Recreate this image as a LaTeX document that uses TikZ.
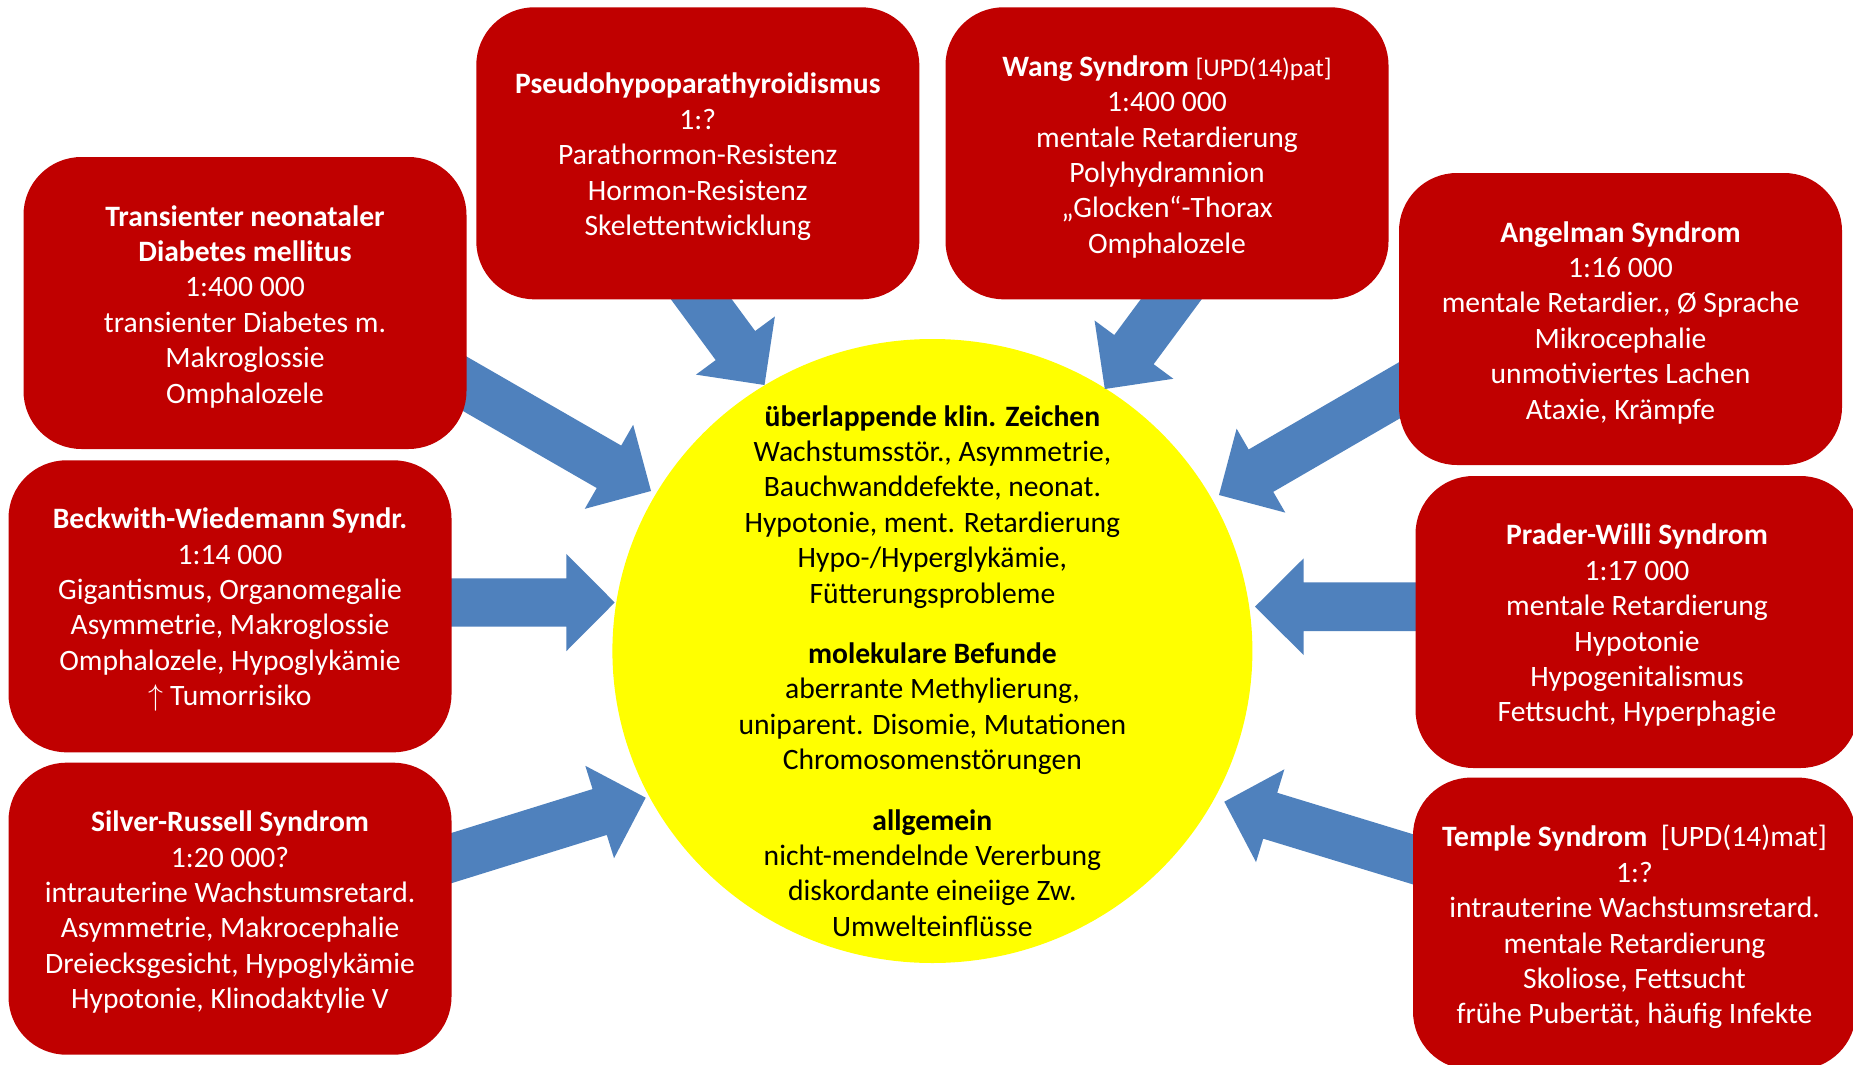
\documentclass[tikz,border=0pt]{standalone}
\usepackage{fontspec}
\setmainfont{Carlito}
\usetikzlibrary{calc,shapes.geometric}
\definecolor{boxred}{RGB}{192,0,0}
\definecolor{arrowblue}{RGB}{79,129,189}
\definecolor{circyellow}{RGB}{255,255,0}
% #1 start, #2 tip, #3 half shaft width, #4 half head width, #5 head length
\newcommand\blockarrow[5]{%
  \coordinate (bab) at ($(#2)!#5pt!(#1)$);
  \fill[arrowfill]
    ($(#1)!#3pt!90:(#2)$) -- ($(bab)!#3pt!90:(#2)$) -- ($(bab)!#4pt!90:(#2)$)
    -- (#2)
    -- ($(bab)!#4pt!-90:(#2)$) -- ($(bab)!#3pt!-90:(#2)$) -- ($(#1)!#3pt!-90:(#2)$) -- cycle;
}
% #1 name, #2 position, #3 text
\newcommand\synbox[3]{%
  \node[sbox] (#1) at (#2) {};
  \node[stext] (#1-t) at ([yshift=-3.5pt]#1.center) {#3};
}
\begin{document}
\begin{tikzpicture}[x=1pt,y=-1pt,
  sbox/.style={fill=boxred, rounded corners=58pt, minimum width=443pt, minimum height=292pt,
    inner sep=0pt},
  stext/.style={align=center, text=white, inner sep=0pt, font=\fontsize{29.6}{35.4}\selectfont},
  arrowfill/.style={fill=arrowblue},
  ctext/.style={align=center, text=black, inner sep=0pt, font=\fontsize{29.6}{35.4}\selectfont}]
\useasboundingbox (0,0) rectangle (1853,1065);
\fill[white] (0,0) rectangle (1853,1065);
\clip (0,0) rectangle (1853,1065);

% central circle
\node[ellipse, fill=circyellow, minimum width=640pt, minimum height=624pt, inner sep=0pt] (circ) at (932.4,651) {};
\node[ctext] (circtext) at (932.4,671) {\textbf{überlappende klin. Zeichen}\\
Wachstumsstör., Asymmetrie,\\
Bauchwanddefekte, neonat.\\
Hypotonie, ment. Retardierung\\
Hypo-/Hyperglykämie,\\
Fütterungsprobleme\\[25pt]
\textbf{molekulare Befunde}\\
aberrante Methylierung,\\
uniparent. Disomie, Mutationen\\
Chromosomenstörungen\\[25pt]
\textbf{allgemein}\\
nicht-mendelnde Vererbung\\
diskordante eineiige Zw.\\
Umwelteinflüsse};

% arrow end points
\coordinate (a1s) at (440,369.5);    \coordinate (a1e) at (651,491);
\coordinate (a2s) at (683.7,275.4);  \coordinate (a2e) at (764.5,385);
\coordinate (a3s) at (1188.8,275.5); \coordinate (a3e) at (1104.8,389);
\coordinate (a4s) at (1425.3,375.3); \coordinate (a4e) at (1219,495);
\coordinate (a5s) at (420,602.5);    \coordinate (a5e) at (614.7,602.5);
\coordinate (a6s) at (1445,606.7);   \coordinate (a6e) at (1255,606.7);
\coordinate (a7s) at (423.7,866.7);  \coordinate (a7e) at (645.7,797.7);
\coordinate (a8s) at (1443.7,868.7); \coordinate (a8e) at (1224.3,801.7);

\blockarrow{a1s}{a1e}{24.5}{48.5}{48.5}
\blockarrow{a2s}{a2e}{24.5}{49}{49}
\blockarrow{a3s}{a3e}{24.5}{49}{49}
\blockarrow{a4s}{a4e}{24.5}{48.5}{48.5}
\blockarrow{a5s}{a5e}{24.2}{48.7}{48.4}
\blockarrow{a6s}{a6e}{24.3}{48.4}{48.7}
\blockarrow{a7s}{a7e}{24}{48.4}{48.2}
\blockarrow{a8s}{a8e}{24}{48.5}{48}

% syndrome boxes
\synbox{tndm}{245,303}{\textbf{Transienter neonataler}\\
\textbf{Diabetes mellitus}\\
1:400 000\\
transienter Diabetes m.\\
Makroglossie\\
Omphalozele}

\synbox{php}{697.8,153.3}{\textbf{Pseudohypoparathyroidismus}\\
1:?\\
Parathormon-Resistenz\\
Hormon-Resistenz\\
Skelettentwicklung}

\synbox{wang}{1167,153.3}{\textbf{Wang Syndrom} {\fontsize{25.5}{30}\selectfont[UPD(14)pat]}\\
1:400 000\\
mentale Retardierung\\
Polyhydramnion\\
„Glocken“-Thorax\\
Omphalozele}

\synbox{angel}{1620.5,319}{\textbf{Angelman Syndrom}\\
1:16 000\\
mentale Retardier., Ø Sprache\\
Mikrocephalie\\
unmotiviertes Lachen\\
Ataxie, Krämpfe}

\synbox{bws}{230,606.3}{\textbf{Beckwith-Wiedemann Syndr.}\\
1:14 000\\
Gigantismus, Organomegalie\\
Asymmetrie, Makroglossie\\
Omphalozele, Hypoglykämie\\
\scalebox{1.2}{$\uparrow$} Tumorrisiko}

\synbox{pws}{1637,622}{\textbf{Prader-Willi Syndrom}\\
1:17 000\\
mentale Retardierung\\
Hypotonie\\
Hypogenitalismus\\
Fettsucht, Hyperphagie}

\synbox{srs}{230,908.7}{\textbf{Silver-Russell Syndrom}\\
1:20 000?\\
intrauterine Wachstumsretard.\\
Asymmetrie, Makrocephalie\\
Dreiecksgesicht, Hypoglykämie\\
Hypotonie, Klinodaktylie V}

\synbox{temple}{1634.5,923.6}{\textbf{Temple Syndrom}\ \ [UPD(14)mat]\\
1:?\\
intrauterine Wachstumsretard.\\
mentale Retardierung\\
Skoliose, Fettsucht\\
frühe Pubertät, häufig Infekte}
\end{tikzpicture}
\end{document}
